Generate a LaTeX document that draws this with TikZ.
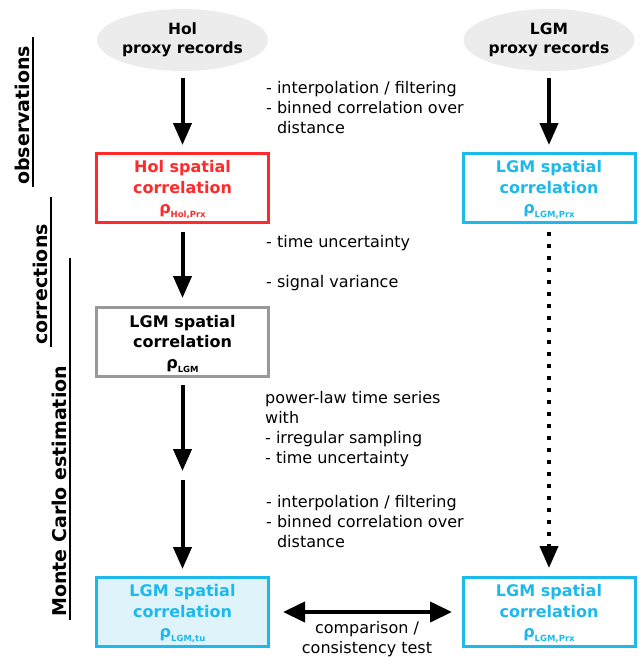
\documentclass[tikz,border=0pt]{standalone}
\usepackage{fontspec}
\setmainfont{DejaVu Sans}
\usetikzlibrary{arrows.meta,shapes.geometric}
\definecolor{myred}{RGB}{255,42,42}
\definecolor{mycyan}{RGB}{30,185,235}
\definecolor{lightcyan}{RGB}{222,243,250}
\definecolor{mygray}{RGB}{153,153,153}
\definecolor{ellgray}{RGB}{236,236,236}
\newcommand{\subtxt}[1]{\raisebox{-4pt}{\fontsize{8.5}{8.5}\selectfont #1}}
\newcommand{\topstr}{\rule{0pt}{16pt}}
\begin{document}
\begin{tikzpicture}[x=1pt,y=-1pt,
  ell/.style={ellipse, fill=ellgray, minimum width=162pt, minimum height=62pt, inner sep=0pt, align=center, font=\fontsize{15.5}{19.5}\selectfont\bfseries},
  box/.style={draw, line width=3pt, minimum width=172pt, minimum height=69pt, inner sep=0pt, align=center, font=\fontsize{16}{20.5}\selectfont\bfseries},
  lbl/.style={font=\fontsize{16}{20}\selectfont, inner sep=0pt, align=left},
  side/.style={font=\fontsize{19}{22}\selectfont\bfseries, inner sep=0pt, anchor=base west, rotate=90},
  sideline/.style={line width=2pt},
  bigarrow/.style={line width=4pt, -{Triangle[length=22pt,width=18pt]}},
  dotarrow/.style={line width=4pt, dash pattern=on 4pt off 8pt, -{Triangle[length=22pt,width=18pt]}},
  dblarrow/.style={line width=4pt, {Triangle[length=22pt,width=20pt]}-{Triangle[length=22pt,width=20pt]}}
]
\useasboundingbox (0,0) rectangle (641,657);

% ellipses
\node[ell] (holp) at (182.5,40) {Hol\\proxy records};
\node[ell] (lgmp) at (549,40) {LGM\\proxy records};

% boxes
\node[box, draw=myred, text=myred] (holc) at (182.5,188) {\topstr Hol spatial\\correlation\\ρ\subtxt{Hol,Prx}};
\node[box, draw=mycyan, text=mycyan] (lgmprx) at (549,188) {\topstr LGM spatial\\correlation\\ρ\subtxt{LGM,Prx}};
\node[box, draw=mygray] (lgmc) at (182.5,342) {\topstr LGM spatial\\correlation\\ρ\subtxt{LGM}};
\node[box, draw=mycyan, text=mycyan, fill=lightcyan] (lgmtu) at (182.5,612) {\topstr LGM spatial\\correlation\\ρ\subtxt{LGM,tu}};
\node[box, draw=mycyan, text=mycyan] (lgmprx2) at (549,612) {\topstr LGM spatial\\correlation\\ρ\subtxt{LGM,Prx}};

\coordinate (mid) at (182.5,476);

% arrows
\draw[bigarrow, shorten <=7pt, shorten >=7pt] (holp.south) -- (holc.north);
\draw[bigarrow, shorten <=8pt, shorten >=8pt] (holc.south) -- (lgmc.north);
\draw[bigarrow, shorten <=7pt, shorten >=5pt] (lgmc.south) -- (mid);
\draw[bigarrow, shorten <=4pt, shorten >=7pt] (mid) -- (lgmtu.north);
\draw[bigarrow, shorten <=7pt, shorten >=7pt] (lgmp.south) -- (lgmprx.north);
\draw[dotarrow, shorten <=8pt, shorten >=8pt] (lgmprx.south) -- (lgmprx2.north);
\draw[dblarrow, shorten <=13pt, shorten >=9.5pt] (lgmtu.east) -- (lgmprx2.west);

% labels
\node[lbl, anchor=north west] (t1) at (266,80.8) {- interpolation / filtering\\- binned correlation over\\\hphantom{- }distance};
\node[lbl, anchor=base west] (t2) at (266,247) {- time uncertainty};
\node[lbl, anchor=base west] (t3) at (266,287) {- signal variance};
\node[lbl, anchor=north west] (t4) at (265,390.8) {power-law time series\\with\\- irregular sampling\\- time uncertainty};
\node[lbl, anchor=north west] (t5) at (266,494.8) {- interpolation / filtering\\- binned correlation over\\\hphantom{- }distance};
\node[lbl, align=center, anchor=north] (cmp) at (367,621) {comparison /\\consistency test};

% side labels
\node[side] (obs) at (29,185) {observations};
\draw[sideline] (33,37) -- (33,187);
\node[side] (cor) at (47,345) {corrections};
\draw[sideline] (51,197) -- (51,347);
\node[side] (mc) at (66,617) {Monte Carlo estimation};
\draw[sideline] (70,258) -- (70,620);
\end{tikzpicture}
\end{document}
